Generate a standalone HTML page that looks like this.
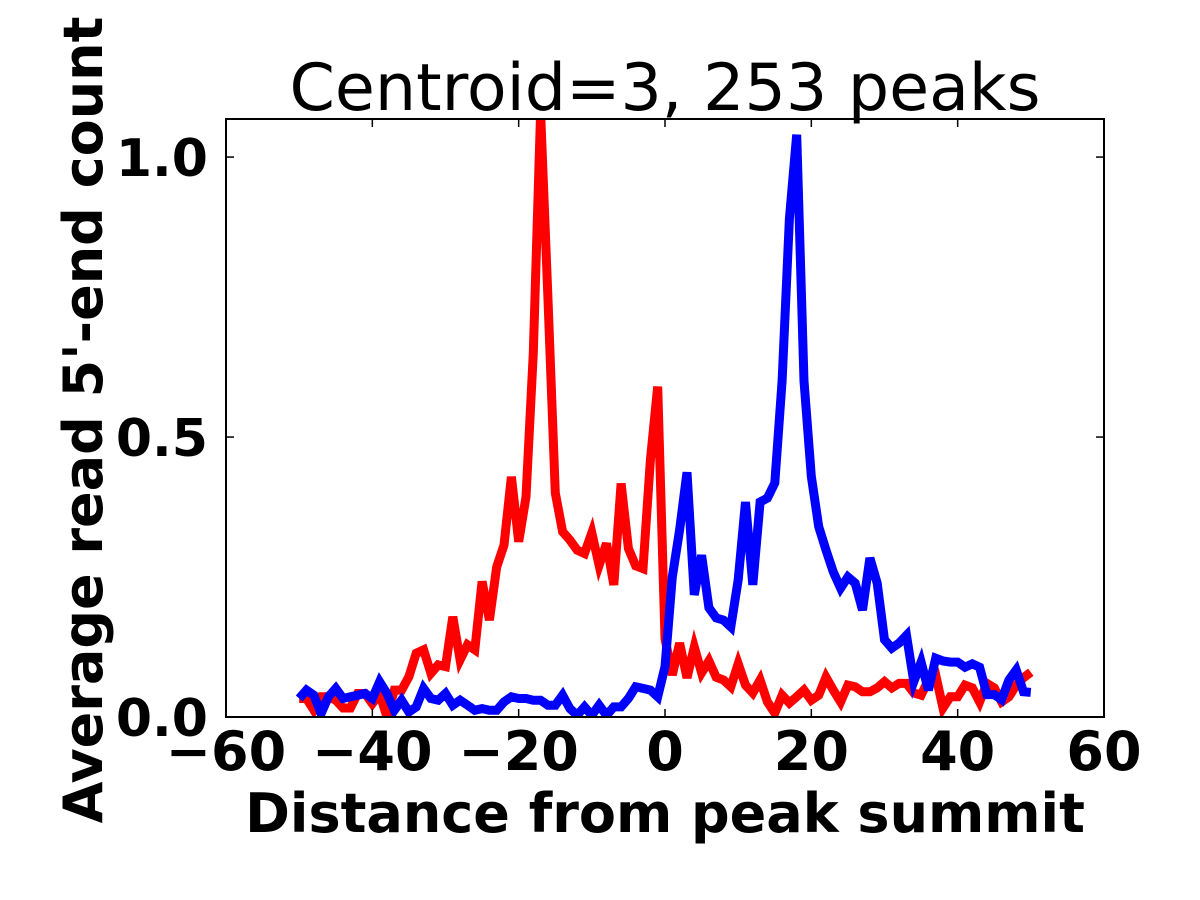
<!DOCTYPE html>
<html><head><meta charset="utf-8"><style>
html,body{margin:0;padding:0;background:#fff;}
svg{display:block;font-family:"DejaVu Sans","Liberation Sans",sans-serif;}
</style></head><body>
<svg id="chart" width="1200" height="900" viewBox="0 0 1200 900" xmlns="http://www.w3.org/2000/svg">
<defs><clipPath id="plotclip"><rect x="226" y="119" width="878" height="598"/></clipPath></defs>
<text x="665" y="110" font-size="65" text-anchor="middle">Centroid=3, 253 peaks</text>
<g id="series" clip-path="url(#plotclip)"></g>
<rect x="226" y="119" width="878" height="598" fill="none" stroke="#000" stroke-width="2"/>
<g id="axes"></g>
<text x="665" y="832" font-size="54" font-weight="bold" text-anchor="middle">Distance from peak summit</text>
<text transform="translate(102,420) rotate(-90)" font-size="54" font-weight="bold" text-anchor="middle">Average read 5'-end count</text>
</svg>
<script>
const xStart = -50;
const redValues = [.033,.033,.0125,.036,.036,.03,.016,.016,.042,.042,.024,.042,0.0,.048,.048,.072,.114,.12,.078,.093,.09,.179,.102,.129,.12,.242,.173,.268,.307,.429,.313,.393,.65,1.08,.75,.40,.331,.316,.298,.292,.329,.271,.31,.236,.417,.301,.27,.265,.459,.59,.14,.075,.132,.07,.125,.079,.10,.071,.066,.054,.095,.057,.043,.066,.027,.007,.039,.025,.036,.048,.030,.039,.071,.048,.027,.057,.054,.045,.045,.052,.063,.052,.06,.06,.043,.039,.066,.075,.016,.036,.036,.057,.052,.027,.06,.052,.027,.036,.057,.07,.08];
const blueValues = [.033,.048,.039,.006,.036,.051,.033,.036,.039,.042,.033,.063,.042,.012,.030,.009,.018,.051,.033,.030,.042,.021,.030,.021,.012,.015,.012,.012,.027,.036,.033,.033,.030,.030,.021,.021,.039,.015,.003,.018,.003,.021,.003,.018,.018,.033,.054,.051,.048,.036,.09,.25,.334,.437,.218,.289,.195,.177,.173,.161,.245,.384,.236,.384,.391,.418,.60,.89,1.04,.60,.43,.34,.298,.259,.23,.25,.239,.191,.284,.239,.138,.123,.132,.146,.063,.098,.048,.105,.100,.098,.098,.089,.095,.089,.040,.040,.031,.066,.084,.045,.044];
const xTicks = [-60,-40,-20,0,20,40,60];
const xTickLabels = ["\u221260","\u221240","\u221220","0","20","40","60"];
const yTicks = [0,0.5,1.0];
const yTickLabels = ["0.0","0.5","1.0"];

const X0=226,X1=1104,Y0=717,Y1=119,XMIN=-60,XMAX=60,YMIN=0,YMAX=1.068;
function sx(v){return X0+(v-XMIN)/(XMAX-XMIN)*(X1-X0);}
function sy(v){return Y0-(v-YMIN)/(YMAX-YMIN)*(Y0-Y1);}
const NS="http://www.w3.org/2000/svg";
const series=document.getElementById('series');
function drawLine(vals,color,name){
  const p=document.createElementNS(NS,'polyline');
  p.setAttribute('points',vals.map((v,i)=>sx(xStart+i).toFixed(1)+','+sy(v).toFixed(1)).join(' '));
  p.setAttribute('fill','none');p.setAttribute('stroke',color);
  p.setAttribute('stroke-width','9');p.setAttribute('stroke-linejoin','miter');
  
  
  series.appendChild(p);
}
drawLine(redValues,'#ff0000','red-series-line');
drawLine(blueValues,'#0000ff','blue-series-line');
const axes=document.getElementById('axes');
function mk(tag,attrs){const e=document.createElementNS(NS,tag);for(const k in attrs)e.setAttribute(k,attrs[k]);return e;}
xTicks.forEach((t,i)=>{
  const x=sx(t);
  const a=mk('line',{x1:x,x2:x,y1:Y0,y2:Y0-8,stroke:'#000','stroke-width':1.5});
  
  
  axes.appendChild(a);
  const b=mk('line',{x1:x,x2:x,y1:Y1,y2:Y1+8,stroke:'#000','stroke-width':1.5});
  
  
  axes.appendChild(b);
  const tx=mk('text',{x:x,y:770,'font-size':54,'font-weight':'bold','text-anchor':'middle'});
  tx.textContent=xTickLabels[i];
  
  
  axes.appendChild(tx);
});
yTicks.forEach((t,i)=>{
  const y=sy(t);
  const a=mk('line',{x1:X0,x2:X0+8,y1:y,y2:y,stroke:'#000','stroke-width':1.5});
  
  
  axes.appendChild(a);
  const b=mk('line',{x1:X1,x2:X1-8,y1:y,y2:y,stroke:'#000','stroke-width':1.5});
  
  
  axes.appendChild(b);
  const tx=mk('text',{x:208,y:y+19,'font-size':52,'font-weight':'bold','text-anchor':'end'});
  tx.textContent=yTickLabels[i];
  
  
  axes.appendChild(tx);
});
</script>
</body></html>
